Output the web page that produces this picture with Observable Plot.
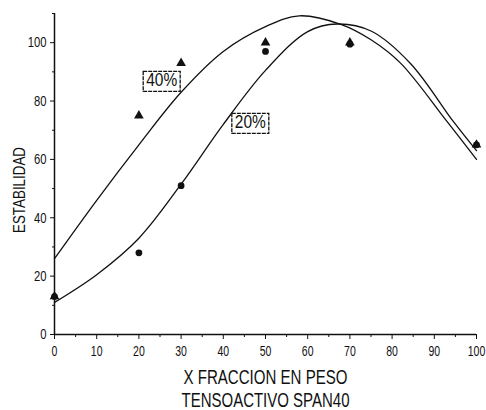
<!DOCTYPE html>
<html>
<head>
<meta charset="utf-8">
<script src="https://cdn.jsdelivr.net/npm/d3@7"></script>
<script src="https://cdn.jsdelivr.net/npm/@observablehq/plot@0.6"></script>
<style>
  body { margin: 0; background: #fff; }
  svg { font-family: "Liberation Sans", Arial, sans-serif; }
</style>
</head>
<body>
<div id="chart"></div>
<script>
// Measured points
const xPoints = [0, 20, 30, 50, 70, 100];
const tri40 = [13, 75, 93, 100, 100, 65];
const dot20 = [13, 28, 51, 97, 99.5, 65];

// Fitted curves
const xs40 = [0, 10, 20, 30, 40, 50, 58, 68, 75, 82, 93, 100];
const fit40 = [26, 46, 65, 83, 97, 105.5, 109.2, 106.2, 101, 93, 73, 60];
const xs20 = [0, 10, 20, 30, 40, 50, 60, 67, 75, 84.4, 94.5, 100];
const fit20 = [11, 20.5, 33, 51.5, 72, 90.5, 103.8, 106.4, 104, 92.8, 73, 63];

// Curve labels
const labelNames = ["40%", "20%"];
const labelX = [25.4, 46.4];
const labelY = [87, 72.6];

// Ticks
const xMajor = [0, 10, 20, 30, 40, 50, 60, 70, 80, 90, 100];
const xMinor = [5, 15, 25, 35, 45, 55, 65, 75, 85, 95];
const yMajor = [0, 20, 40, 60, 80, 100];
const yMinor = [10, 30, 50, 70, 90, 110];

const xTitle1 = "X FRACCION EN PESO";
const xTitle2 = "TENSOACTIVO SPAN40";
const yTitle = "ESTABILIDAD";

const curve40 = xs40.map((x, i) => ({x, y: fit40[i]}));
const curve20 = xs20.map((x, i) => ({x, y: fit20[i]}));
const triData = xPoints.map((x, i) => ({x, y: tri40[i]}));
const dotData = xPoints.map((x, i) => ({x, y: dot20[i]}));
const labels = labelNames.map((t, i) => ({t, x: labelX[i], y: labelY[i]}));

const plot = Plot.plot({
  width: 486,
  height: 410,
  marginLeft: 54,
  marginRight: 10,
  marginTop: 13,
  marginBottom: 76,
  style: {fontFamily: '"Liberation Sans", Arial, sans-serif', fontSize: "15px", background: "#fff", color: "#111"},
  x: {domain: [0, 100]},
  y: {domain: [0, 110]},
  marks: [
    Plot.axisX({ticks: xMajor, tickSize: 5, tickPadding: 6, label: null, className: "tkx"}),
    Plot.axisX({ticks: xMinor, tickSize: 3, text: null, label: null}),
    Plot.axisY({ticks: yMajor, tickSize: 4, tickPadding: 4, label: null, className: "tky"}),
    Plot.axisY({ticks: yMinor, tickSize: 2, text: null, label: null}),
    Plot.ruleX([0], {y1: 0, y2: 110, stroke: "#111", strokeWidth: 1.5}),
    Plot.ruleY([0], {x1: 0, x2: 100, stroke: "#111", strokeWidth: 1.5}),
    Plot.line(curve40, {x: "x", y: "y", curve: "catmull-rom", stroke: "#111", strokeWidth: 1.3}),
    Plot.line(curve20, {x: "x", y: "y", curve: "catmull-rom", stroke: "#111", strokeWidth: 1.3}),
    Plot.dot(triData, {x: "x", y: "y", symbol: "triangle", r: 3.6, fill: "#111", stroke: "none"}),
    Plot.dot(dotData, {x: "x", y: "y", symbol: "circle", r: 3.4, fill: "#111", stroke: "none"}),
    Plot.text(labels, {x: "x", y: "y", text: "t", fontSize: 18, fill: "#111", className: "cl"}),
    Plot.text([xTitle1], {frameAnchor: "bottom", lineAnchor: "middle", dy: 43, fontSize: 20, fill: "#111", className: "t1"}),
    Plot.text([xTitle2], {frameAnchor: "bottom", lineAnchor: "middle", dy: 66, fontSize: 20, fill: "#111", className: "t2"}),
    Plot.text([yTitle], {frameAnchor: "left", textAnchor: "middle", lineAnchor: "middle", rotate: -90, dx: -35, dy: 16, fontSize: 16, fill: "#111", className: "yl"})
  ]
});

document.getElementById("chart").appendChild(plot);

// Condense text like the narrow typeface of the original
function squeeze(sel, scale, fixed) {
  plot.querySelectorAll(sel).forEach(t => {
    const len = t.getComputedTextLength();
    t.setAttribute("textLength", fixed ? fixed : len * scale);
    t.setAttribute("lengthAdjust", "spacingAndGlyphs");
  });
}
squeeze(".tkx text", 0.7);
squeeze(".tky text", 0.75);
squeeze(".cl text", 0.86);
squeeze(".t1 text", 0, 164);
squeeze(".t2 text", 0, 168);
squeeze(".yl text", 0, 86);

// Draw boxes around curve labels
plot.querySelectorAll(".cl text").forEach(t => {
  const b = t.getBBox();
  const r = document.createElementNS("http://www.w3.org/2000/svg", "rect");
  r.setAttribute("x", b.x - 3);
  r.setAttribute("y", b.y + 1);
  r.setAttribute("width", b.width + 6);
  r.setAttribute("height", b.height);
  r.setAttribute("fill", "white");
  r.setAttribute("stroke", "#111");
  r.setAttribute("stroke-width", 1.3);
  r.setAttribute("stroke-dasharray", "4,1");
  if (t.getAttribute("transform")) r.setAttribute("transform", t.getAttribute("transform"));
  t.parentNode.insertBefore(r, t);
});
</script>
</body>
</html>
